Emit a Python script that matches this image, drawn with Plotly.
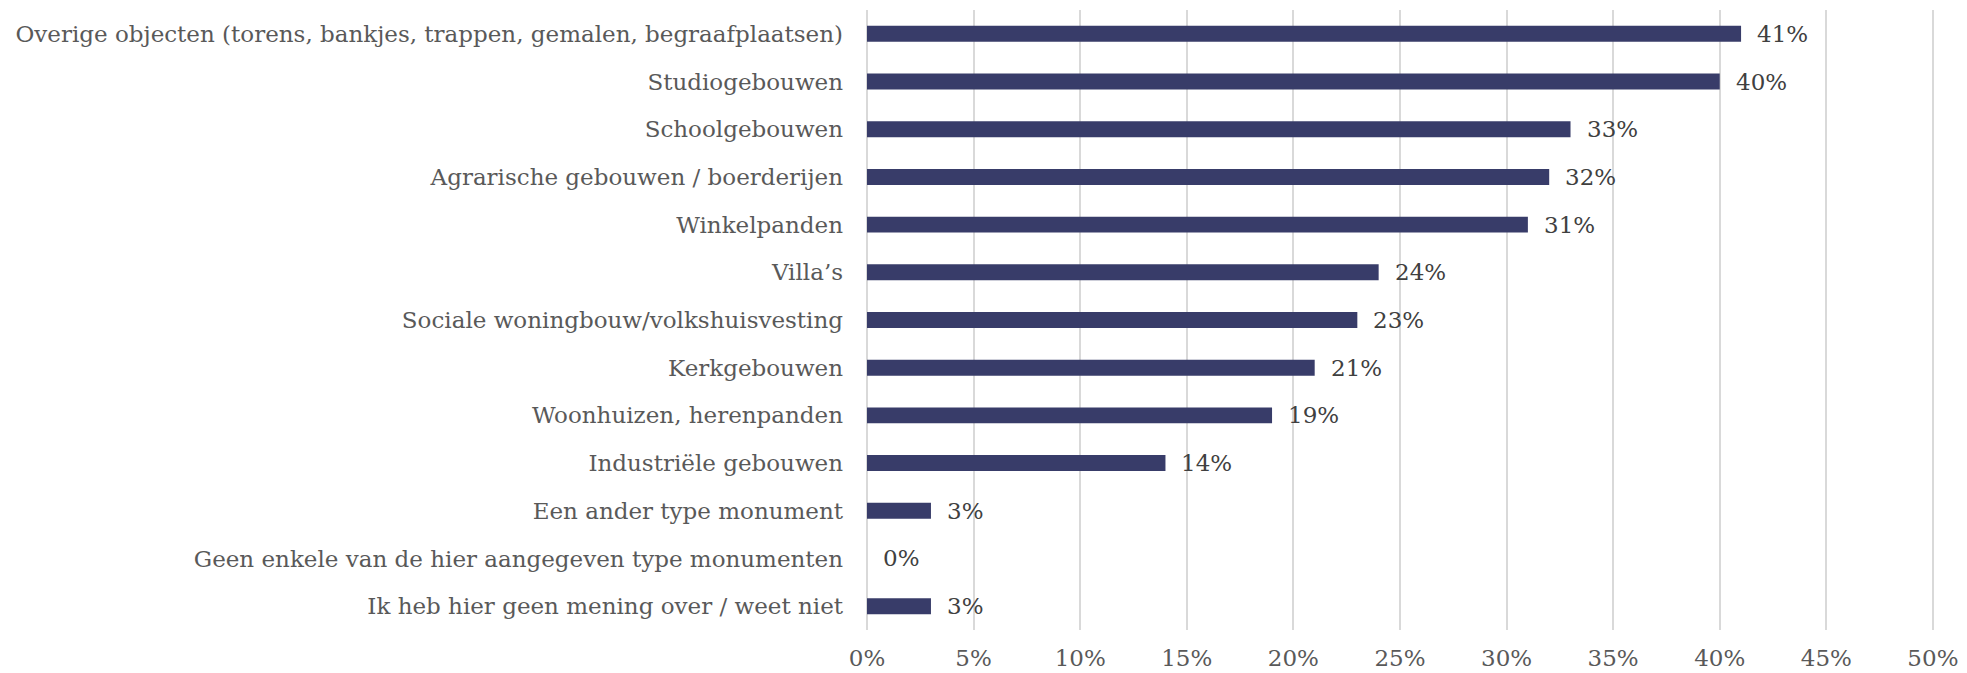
import plotly.graph_objects as go

categories = [
    "Overige objecten (torens, bankjes, trappen, gemalen, begraafplaatsen)",
    "Studiogebouwen",
    "Schoolgebouwen",
    "Agrarische gebouwen / boerderijen",
    "Winkelpanden",
    "Villa’s",
    "Sociale woningbouw/volkshuisvesting",
    "Kerkgebouwen",
    "Woonhuizen, herenpanden",
    "Industriële gebouwen",
    "Een ander type monument",
    "Geen enkele van de hier aangegeven type monumenten",
    "Ik heb hier geen mening over / weet niet",
]
values = [0.41, 0.40, 0.33, 0.32, 0.31, 0.24, 0.23, 0.21, 0.19, 0.14, 0.03, 0.00, 0.03]
tick_vals = [0, 0.05, 0.10, 0.15, 0.20, 0.25, 0.30, 0.35, 0.40, 0.45, 0.50]
tick_text = ["0%", "5%", "10%", "15%", "20%", "25%", "30%", "35%", "40%", "45%", "50%"]

FONT = "DejaVu Serif"
BAR = "#383c69"
TXT = "#595959"
FS = 23

fig = go.Figure()
fig.add_trace(go.Bar(
    x=values, y=categories, orientation="h",
    marker=dict(color=BAR, line=dict(width=0)),
    hoverinfo="x+y",
))

for c, v in zip(categories, values):
    fig.add_annotation(
        x=v, y=c, xref="x", yref="y",
        text=f"{round(v*100)}%", showarrow=False,
        xanchor="left", xshift=14,
        font=dict(family=FONT, size=FS, color="#404040"),
    )

# page body adds an 8px offset, so the figure is sized to fit
fig.update_layout(
    template="none",
    width=1959, height=665,
    margin=dict(l=859, r=33, t=2, b=43),
    paper_bgcolor="white", plot_bgcolor="white",
    bargap=0.665,
    showlegend=False,
    font=dict(family=FONT, size=FS, color=TXT),
)
fig.update_xaxes(
    range=[0, 0.5005], tickvals=tick_vals, ticktext=tick_text,
    showgrid=True, gridcolor="#d9d9d9", gridwidth=1.5,
    zeroline=True, zerolinecolor="#d9d9d9", zerolinewidth=1.5,
    showline=False, automargin=False,
    ticks="", ticklabelstandoff=12,
    tickfont=dict(family=FONT, size=FS, color=TXT),
)
fig.update_yaxes(
    categoryorder="array", categoryarray=categories, autorange="reversed",
    showgrid=False, zeroline=False, showline=False, automargin=False,
    ticks="", ticklabelstandoff=23,
    tickfont=dict(family=FONT, size=FS, color=TXT),
)

fig.write_html("out.html")
